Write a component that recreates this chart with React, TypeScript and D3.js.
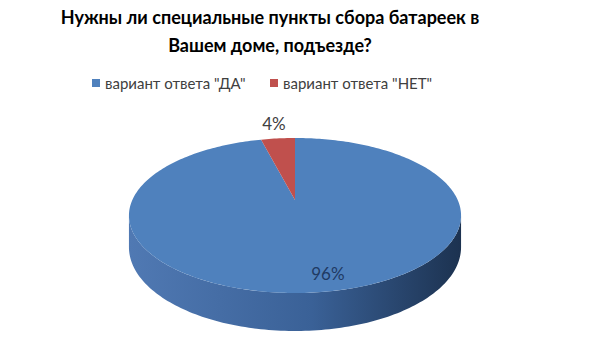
import React from "react";
import * as d3 from "d3";

const categories = ['вариант ответа "ДА"', 'вариант ответа "НЕТ"'];
const values = [96, 4];
const percentLabels = ["96%", "4%"];
const colors = ["#4f81bd", "#c0504d"];
const sideColors = [
  ["#5079b3", "#3a6197", "#1c3250"],
  ["#a8403d", "#8c3330", "#6e2624"],
];
const titleLines = ["Нужны ли специальные пункты сбора батареек в", "Вашем доме, подъезде?"];

const W = 600;
const H = 338;
const FONT = "Lato, 'Open Sans', sans-serif";

// perspective projection of a unit circle lying in a tilted plane
const cx0 = 295;
const cy0 = 200;
const k = 0.2;
const sx = 162.7;
const sy = 74.4;
const depth = 30.4;

function proj(theta: number, r: number, h = 0): [number, number] {
  const u = r * Math.sin(theta);
  const v = r * Math.cos(theta);
  const w = 1 + k * v;
  return [cx0 + (sx * u) / w, cy0 + (-sy * v + h) / w];
}

function arcPoints(a0: number, a1: number, h: number) {
  const n = Math.max(2, Math.ceil(Math.abs(a1 - a0) / 0.02));
  const pts: [number, number][] = [];
  for (let i = 0; i <= n; i++) pts.push(proj(a0 + ((a1 - a0) * i) / n, 1, h));
  return pts;
}

const line = d3.line();

export default function App() {
  const arcs = d3.pie<number>().sort(null).value((d) => d)(values);
  const sil = Math.acos(-k);
  const visA = sil;
  const visB = 2 * Math.PI - sil;

  const sides = arcs.map((a, i) => {
    const s = Math.max(a.startAngle, visA);
    const e = Math.min(a.endAngle, visB);
    if (e <= s) return null;
    const top = arcPoints(s, e, 0);
    const bot = arcPoints(e, s, depth);
    return { i, d: line([...top, ...bot])! + "Z" };
  });

  const tops = arcs.map((a, i) => {
    const pts = [proj(0, 0), ...arcPoints(a.startAngle, a.endAngle, 0)];
    return { i, d: line(pts)! + "Z" };
  });

  const labelPos = arcs.map((a, i) => {
    const mid = (a.startAngle + a.endAngle) / 2;
    if (a.value < 10) return proj(mid, 1.3);
    const p = proj(mid, 0.85);
    return [p[0] + 12, p[1] - 2] as [number, number];
  });

  const legendX = [92, 270];

  return (
    <svg width={W} height={H} style={{ display: "block", position: "absolute", left: 0, top: 0 }}>
      <defs>
        {sideColors.map((c, i) => (
          <linearGradient key={i} id={`side${i}`} x1="0" x2="1" y1="0" y2="0">
            <stop offset="0" stopColor={c[0]} />
            <stop offset="0.55" stopColor={c[1]} />
            <stop offset="1" stopColor={c[2]} />
          </linearGradient>
        ))}
      </defs>
      <rect width={W} height={H} fill="#ffffff" />
      {titleLines.map((t, i) => (
        <text
          key={i}
          x={270}
          y={17 + i * 28}
          textAnchor="middle"
          dominantBaseline="central"
          fontFamily={FONT}
          fontWeight="bold"
          fontSize={18}
          fill="#000000"
        >
          {t}
        </text>
      ))}
      {categories.map((c, i) => (
        <g key={i}>
          <rect x={legendX[i]} y={79} width={8} height={8} fill={colors[i]} />
          <text
            x={legendX[i] + 13}
            y={83}
            dominantBaseline="central"
            fontFamily={FONT}
            fontSize={15}
            fill="#404040"
          >
            {c}
          </text>
        </g>
      ))}
      {sides.map((s) => s && <path key={s.i} d={s.d} fill={`url(#side${s.i})`} />)}
      {tops.map((t) => (
        <path key={t.i} d={t.d} fill={colors[t.i]} />
      ))}
      {arcs.map((a, i) => (
        <text
          key={i}
          x={labelPos[i][0]}
          y={labelPos[i][1]}
          textAnchor="middle"
          dominantBaseline="central"
          fontFamily={FONT}
          fontSize={17}
          fill={a.value < 10 ? "#404040" : "#1f3a63"}
        >
          {percentLabels[i]}
        </text>
      ))}
    </svg>
  );
}
